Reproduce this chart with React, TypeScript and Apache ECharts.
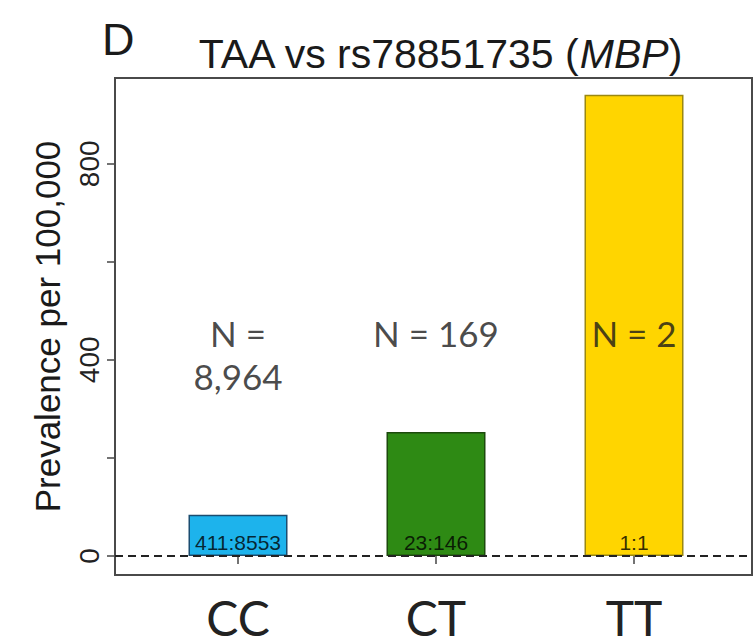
import React, { useEffect, useRef } from "react";
import * as echarts from "echarts";

const categories = ["CC", "CT", "TT"];
const prevalence = [84, 253, 941];
const ratioLabels = ["411:8553", "23:146", "1:1"];
const nLabels = ["N =\n8,964", "N = 169", "N = 2"];
const barColors = ["#1DB3EC", "#2E8A14", "#FFD500"];
const barBorders = ["#1b4d70", "#1c4a0c", "#9a8812"];
const yTickValues = [0, 200, 400, 600, 800];
const yLabelValues = [0, 400, 800];
const nLabelY = 500;

export default function App() {
  const ref = useRef<HTMLDivElement>(null);
  useEffect(() => {
    document.body.style.margin = "0";
    const chart = echarts.init(ref.current!, null, { renderer: "svg" });
    const boxL = 115, boxT = 78, boxR = 752, boxB = 575;
    chart.setOption({
      animation: false,
      backgroundColor: "#ffffff",
      title: [
        {
          text: "{a|TAA vs rs78851735 (}{b|MBP}{a|)}",
          left: 435,
          top: 28,
          textAlign: "center",
          textStyle: {
            fontWeight: "normal",
            rich: {
              a: { fontFamily: "Liberation Sans", fontSize: 41, fontWeight: "normal", color: "#1a1a1a" },
              b: { fontFamily: "Liberation Sans", fontSize: 41, fontWeight: "normal", fontStyle: "italic", color: "#1a1a1a" },
            },
          },
        },
        {
          text: "D",
          left: 97,
          top: 12,
          textStyle: { fontFamily: "Liberation Sans", fontSize: 45, fontWeight: "normal", color: "#1a1a1a" },
        },
      ],
      grid: { left: 139, right: 23, top: boxT, bottom: 644 - boxB, containLabel: false },
      xAxis: {
        type: "category",
        data: categories,
        axisLine: { show: false },
        axisTick: { show: true, alignWithLabel: true, length: 8, lineStyle: { color: "#444", width: 1.5 } },
        axisLabel: { fontFamily: "Lato", fontSize: 48, color: "#222", margin: 18 },
        splitLine: { show: false },
      },
      yAxis: {
        type: "value",
        min: -39,
        max: 975,
        offset: 24,
        name: "Prevalence per 100,000",
        nameLocation: "middle",
        nameRotate: 90,
        nameGap: 50,
        nameTextStyle: { fontFamily: "Liberation Sans", fontSize: 35, color: "#1a1a1a" },
        axisLine: { show: false },
        axisTick: { show: true, length: 8, customValues: yTickValues, lineStyle: { color: "#444", width: 1.5 } },
        axisLabel: {
          customValues: yLabelValues,
          rotate: 90,
          margin: 12,
          fontFamily: "Liberation Sans",
          fontSize: 28,
          color: "#222",
        },
        splitLine: { show: false },
      },
      series: [
        {
          type: "bar",
          barWidth: 99,
          data: prevalence.map((v, i) => ({
            value: v,
            itemStyle: { color: barColors[i], borderColor: barBorders[i], borderWidth: 1.5 },
          })),
          label: {
            show: true,
            position: "insideBottom",
            distance: 3,
            formatter: (p: any) => ratioLabels[p.dataIndex],
            fontFamily: "Liberation Sans",
            fontSize: 21,
            color: "rgba(0,0,0,0.8)",
          },
        },
        {
          type: "scatter",
          symbolSize: 1,
          itemStyle: { color: "rgba(0,0,0,0)" },
          data: categories.map((c, i) => [i, nLabelY]),
          z: 5,
          label: {
            show: true,
            position: "bottom",
            distance: 0,
            formatter: (p: any) => nLabels[p.dataIndex],
            fontFamily: "Lato",
            fontSize: 35,
            lineHeight: 43,
            color: "#1a1a1a",
            align: "center",
          },
        },
      ],
    });
    const y0 = chart.convertToPixel({ yAxisIndex: 0 }, 0) as number;
    chart.setOption({
      graphic: [
        {
          type: "rect",
          z: 100,
          shape: { x: boxL, y: boxT, width: boxR - boxL, height: boxB - boxT },
          style: { fill: "none", stroke: "#4a4a4a", lineWidth: 2 },
        },
        {
          type: "line",
          z: 100,
          shape: { x1: boxL, y1: y0, x2: boxR, y2: y0 },
          style: { stroke: "#222", lineWidth: 2, lineDash: [8, 5] },
        },
      ],
    });
    return () => chart.dispose();
  }, []);
  return <div ref={ref} style={{ width: 756, height: 644, position: "absolute", left: 0, top: 0 }} />;
}
